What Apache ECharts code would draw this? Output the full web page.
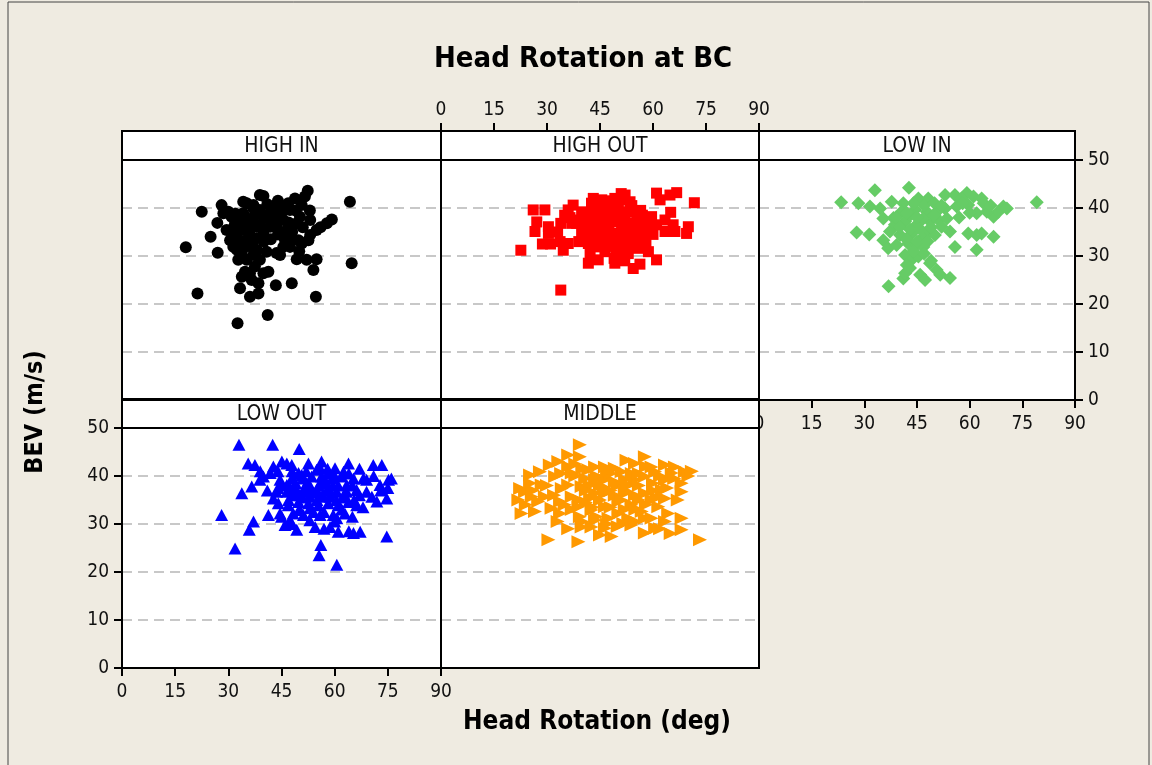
<!DOCTYPE html>
<html>
<head>
<meta charset="utf-8">
<script src="https://cdn.jsdelivr.net/npm/echarts@6/dist/echarts.min.js"></script>
<style>
html,body{margin:0;padding:0;background:#efebe1;}
#chart{width:1152px;height:765px;}
</style>
</head>
<body>
<div id="chart"></div>
<script>
// panel names, in Minitab's order
var panelNames = ['HIGH IN', 'HIGH OUT', 'LOW IN', 'LOW OUT', 'MIDDLE'];
var xTicks = [0, 15, 30, 45, 60, 75, 90];
var yTicks = [0, 10, 20, 30, 40, 50];

// [head rotation (deg), BEV (m/s)]
var highIn = [[18.0,31.8],[22.5,39.2],[21.3,22.2],[32.6,16.0],[41.1,17.7],[64.3,41.3],[64.8,28.5],[54.7,21.5],
  [52.4,43.6],[47.9,24.3],[43.4,23.9],[27.0,30.7],[25.0,34.0],[26.9,36.9],[28.1,40.6],[39.9,42.5],[35.2,41.0],
  [48.8,42.0],[59.2,37.6],[57.8,36.8],[54.0,27.1],[54.9,29.3],[52.1,29.2],[49.3,29.3],[44.6,30.2],[46.0,33.3],
  [49.8,33.3],[53.1,34.4],[54.9,35.4],[53.1,37.5],[50.2,38.2],[47.4,39.6],[44.6,40.3],[42.7,39.2],[38.9,39.6],
  [37.1,39.9],[34.2,38.9],[31.9,36.8],[30.9,38.2],[30.0,39.2],[32.4,34.7],[31.4,33.7],[34.2,35.4],[36.1,36.8],
  [35.2,33.3],[33.8,30.6],[35.2,29.2],[38.0,31.3],[40.8,30.9],[38.9,29.2],[37.5,27.8],[34.7,26.7],[33.8,25.7],
  [36.6,25.0],[38.5,24.3],[41.3,26.7],[33.3,23.3],[36.1,21.5],[38.5,22.2],[41.8,36.1],[39.9,34.7],[38.0,33.7],
  [43.6,36.1],[45.5,37.5],[41.8,37.5],[39.9,38.2],[38.0,36.1],[45.5,31.9],[43.6,30.6],[47.4,31.9],[32.4,31.3],
  [32.8,29.2],[29.5,35.4],[30.5,33.3],[28.6,38.9],[50.7,40.6],[46.9,41.0],[42.7,40.3],[37.1,40.6],[34.2,41.3],
  [38.9,42.7],[51.6,42.4],[49.3,36.8],[46.5,35.4],[35.2,37.5],[33.3,36.8],[36.6,32.3],[34.7,31.9],[31.4,31.9],
  [50.7,32.6],[47.4,33.7],[52.6,33.3],[37.1,30.2],[36.1,26.4],[39.9,26.4],
  [33.0,37.5],[35.0,36.0],[37.0,38.0],[39.0,36.5],[41.0,38.5],[43.0,38.0],[45.0,39.0],[47.0,37.0],[49.0,39.5],
  [51.0,36.0],[36.0,34.5],[34.0,33.0],[40.0,33.0],[42.0,33.5],[44.0,34.5],[48.0,35.0],[32.0,38.8],[37.0,31.5],
  [35.0,32.5],[41.0,40.8],[44.0,41.5],[31.0,35.5],[53.0,39.5],[56.0,36.0],[50.0,31.0]];

var highOut = [[22.6,31.2],[33.9,22.9],[26.1,39.6],[29.4,39.6],[27.1,37.1],[26.6,35.1],[28.7,32.5],[30.4,36.1],
  [30.4,34.7],[33.9,36.8],[33.7,33.0],[36.0,32.6],[34.6,31.2],[36.0,39.6],[37.4,40.6],[39.8,39.2],[38.4,36.8],
  [40.8,36.8],[41.2,34.7],[41.7,32.6],[42.2,30.6],[41.7,28.5],[44.5,29.2],[43.1,42.0],[45.5,41.7],[49.2,42.0],
  [52.1,42.7],[53.5,41.3],[42.6,39.6],[45.5,38.9],[47.4,39.9],[50.2,39.6],[53.0,39.2],[55.8,38.9],[43.6,36.8],
  [46.4,36.8],[49.2,37.1],[52.1,37.1],[54.9,36.8],[57.7,36.8],[59.6,38.2],[44.5,34.7],[47.4,35.1],[50.2,34.7],
  [53.0,34.7],[55.8,34.4],[58.2,35.1],[45.5,32.6],[48.3,32.3],[51.1,33.0],[54.0,33.0],[55.8,31.6],[56.8,32.6],
  [46.4,30.9],[50.2,30.6],[49.2,28.5],[54.4,27.4],[56.3,28.3],[58.7,30.9],[61.0,29.2],[61.0,43.1],[62.0,41.7],
  [64.8,42.7],[66.7,43.2],[71.7,41.1],[65.0,39.1],[63.4,37.5],[65.7,36.5],[63.4,35.1],[66.2,35.1],[70.0,36.1],
  [69.5,34.7],[48.3,38.2],[51.1,36.1],[39.8,34.7],[37.0,36.8],[47.4,34.0],[43.6,31.9],[52.1,31.2],[55.4,37.8],
  [42.6,41.0],[50.7,41.7],[52.5,35.4],[45.0,38.2],[41.7,37.8],[59.6,36.5],
  [40.0,38.0],[43.0,38.0],[46.0,37.8],[49.0,40.5],[52.0,38.5],[55.0,36.0],[57.0,38.5],[44.0,33.5],[47.0,32.0],
  [50.0,33.5],[53.0,32.5],[56.0,34.0],[58.0,33.0],[60.0,34.5],[46.0,40.5],[48.0,41.5],[51.0,43.0],[54.0,40.5],
  [39.0,33.0],[42.0,35.5],[45.0,36.0],[59.0,37.5],[61.0,36.5],[49.0,29.5],[52.0,29.0],[36.5,38.0],[33.0,35.0],
  [31.0,32.5],[44.0,40.0],[47.5,36.0],[50.5,38.0],[53.5,36.0],[56.5,39.5],[57.5,35.5],[43.0,34.0],[46.0,33.0],
  [49.5,31.5],[53.0,30.5],[39.0,37.5],[35.0,38.5]];

var lowIn = [[23.4,41.2],[79.1,41.2],[33.0,43.7],[42.7,44.2],[28.3,41.0],[31.6,40.3],[27.8,34.9],[31.4,34.5],
  [36.9,23.7],[34.5,39.9],[37.8,41.3],[35.4,33.3],[36.8,31.6],[41.1,41.0],[45.4,42.0],[48.2,42.0],[53.0,42.7],
  [55.8,42.7],[59.2,43.1],[63.4,42.0],[69.6,40.3],[66.8,38.2],[62.0,38.9],[59.6,40.6],[56.3,40.3],[53.0,39.9],
  [51.1,39.6],[47.8,39.2],[44.4,39.6],[40.6,39.2],[38.3,37.9],[41.6,37.2],[44.9,36.5],[48.7,37.2],[51.1,37.5],
  [53.5,37.8],[37.3,35.1],[40.2,34.4],[43.5,34.7],[46.8,34.0],[48.7,35.1],[50.1,34.4],[39.2,32.3],[42.5,32.6],
  [44.9,32.3],[54.4,35.1],[59.6,34.7],[62.0,34.4],[63.4,34.7],[66.8,34.0],[55.8,31.9],[62.0,31.3],[41.6,30.2],
  [43.5,29.2],[45.4,29.9],[42.1,28.1],[48.7,28.5],[50.6,27.1],[51.6,26.1],[54.4,25.4],[45.9,26.1],[47.3,25.0],
  [41.1,25.3],[41.6,26.4],[46.8,37.8],[35.4,37.8],[57.7,42.0],[61.1,42.4],[68.2,39.2],[70.6,39.9],[64.9,39.2],
  [52.0,36.1],[43.0,38.5],[38.7,36.5],[46.8,31.9],
  [39.0,38.0],[42.0,39.0],[45.0,38.0],[47.0,40.5],[50.0,41.0],[52.0,40.5],[44.0,41.0],[40.0,36.0],[43.0,35.5],
  [46.0,35.5],[49.0,36.0],[42.0,33.5],[45.0,33.0],[48.0,33.0],[47.0,30.5],[44.0,31.0],[43.0,27.5],[49.0,29.0],
  [57.0,38.0],[58.0,41.0],[60.0,39.0],[64.0,41.0],[66.0,40.5],[50.0,38.5]];

var lowOut = [[33.0,46.5],[42.5,46.5],[50.0,45.6],[28.1,31.9],[33.8,36.4],[36.6,37.8],[35.6,42.6],[37.5,42.3],
  [37.1,30.5],[35.9,28.8],[31.9,24.9],[60.6,21.5],[56.1,25.6],[55.6,23.5],[74.7,27.4],[65.3,28.1],[67.2,28.4],
  [70.9,42.3],[73.3,42.3],[75.2,39.2],[74.7,35.3],[71.9,34.7],[69.0,36.7],[49.3,28.8],[53.0,30.8],[61.0,28.4],
  [58.7,29.4],[41.3,31.9],[44.6,32.2],[47.4,30.8],[38.9,39.2],[41.8,40.6],[42.7,42.0],[45.1,43.0],[46.5,42.6],
  [47.9,42.3],[52.6,42.6],[56.3,43.0],[60.1,41.6],[63.9,42.6],[44.6,39.2],[47.9,39.5],[50.7,40.2],[53.5,39.9],
  [56.3,39.9],[59.2,39.5],[62.0,39.9],[65.3,39.5],[68.1,39.5],[43.6,36.7],[46.5,36.7],[49.3,37.1],[52.1,36.7],
  [54.9,37.1],[57.8,37.1],[60.6,36.7],[63.4,36.7],[66.2,37.1],[44.1,34.3],[46.9,33.9],[49.8,34.6],[52.6,34.3],
  [55.4,33.9],[58.2,34.3],[61.0,33.9],[63.9,34.6],[66.2,33.9],[48.3,32.2],[51.2,31.9],[55.9,31.9],[59.6,31.9],
  [62.9,32.2],[49.8,40.6],[54.9,41.3],[58.2,40.6],[62.5,40.9],[46.5,38.1],[52.1,38.5],[57.8,38.5],[63.4,38.1],
  [69.0,39.2],[42.7,35.3],[39.9,39.9],[54.5,29.4],[46.0,29.8],[60.6,31.2],[53.0,33.3],[50.2,32.9],[70.5,35.7],
  [72.8,38.1],[55.9,35.7],[58.7,35.7],[53.0,35.7],[50.2,36.0],
  [44.0,41.0],[48.0,41.0],[52.0,41.0],[56.0,41.5],[60.0,40.0],[64.0,40.5],[45.0,38.0],[49.0,38.5],[53.0,38.0],
  [57.0,39.0],[61.0,38.0],[65.0,38.0],[47.0,35.0],[51.0,35.5],[55.0,35.0],[59.0,36.5],[63.0,35.5],[67.0,36.0],
  [50.0,33.0],[54.0,32.5],[57.0,32.5],[62.0,33.0],[65.0,31.5],[44.0,37.5],[41.0,37.0],[39.0,41.0],[67.0,41.5],
  [71.0,40.0],[73.0,37.0],[76.0,39.5],[75.0,37.5],[68.0,33.5],[60.0,30.5],[57.0,29.0],[48.0,30.0],[45.0,31.5],
  [64.0,28.5],[47.5,37.5],[51.5,37.5],[55.5,38.0],[59.5,38.0],[62.5,36.0],[65.5,35.0],[53.5,36.5],[48.5,36.0],
  [56.5,36.0],[60.5,35.0],[51.0,39.5],[58.0,41.5]];

var middle = [[30.4,26.7],[38.9,26.3],[73.3,26.7],[39.3,46.5],[36.0,44.4],[33.2,43.0],[30.8,42.3],[28.0,40.9],
  [25.2,40.2],[22.4,37.4],[21.9,35.0],[22.8,32.2],[26.6,32.6],[25.7,35.7],[25.2,38.5],[28.5,38.1],[29.4,35.7],
  [32.3,39.9],[33.7,34.7],[33.7,32.2],[37.0,40.6],[39.3,44.0],[39.8,37.8],[39.3,31.5],[39.8,29.4],[42.2,35.4],
  [43.6,41.9],[46.4,41.9],[49.2,41.6],[52.5,43.3],[54.9,42.6],[57.7,44.0],[59.6,41.9],[63.4,42.3],[66.2,41.9],
  [69.0,40.9],[68.1,38.5],[68.1,36.7],[63.4,39.2],[62.5,37.1],[63.4,35.3],[61.5,33.6],[64.3,32.2],[68.1,31.2],
  [68.1,28.8],[60.6,29.1],[57.7,28.1],[53.9,29.8],[53.0,31.2],[57.7,31.2],[56.8,32.6],[46.4,29.1],[45.0,27.7],
  [43.6,30.8],[47.4,31.2],[50.2,32.2],[46.4,33.6],[42.6,32.9],[38.9,33.6],[37.0,35.7],[36.0,38.1],[34.2,37.4],
  [43.6,39.2],[46.4,39.2],[49.2,38.8],[52.1,39.2],[54.9,39.2],[57.7,39.9],[43.6,36.4],[46.4,36.4],[49.2,36.0],
  [52.1,36.4],[54.9,36.0],[57.7,36.4],[59.6,35.0],[50.2,34.7],[53.9,34.0],[41.7,41.3],[31.3,33.3],[27.5,34.7],
  [23.8,36.7],[40.8,39.5],[51.1,40.9],[60.6,40.9],[65.3,40.6],[59.6,31.2],[63.4,30.5],[51.6,30.1],[42.6,29.4],
  [48.3,27.4],
  [30.0,38.0],[32.0,36.0],[34.0,40.5],[36.0,42.0],[38.0,40.0],[40.0,41.5],[42.0,38.0],[44.0,40.0],[46.0,37.5],
  [48.0,40.5],[50.0,38.0],[52.0,37.0],[54.0,40.5],[56.0,38.0],[58.0,42.0],[60.0,38.5],[62.0,40.0],[64.0,37.5],
  [66.0,39.5],[35.0,34.0],[37.0,33.0],[41.0,34.5],[45.0,35.0],[48.0,33.5],[51.0,35.0],[55.0,33.0],[58.0,34.0],
  [61.0,35.5],[40.0,30.5],[44.0,31.5],[47.0,30.0],[50.0,29.5],[55.0,30.5],[62.0,29.0],[65.0,28.0],[70.0,40.0],
  [71.0,41.0],[67.0,35.0],[36.0,29.0],[33.0,30.5],[26.0,37.0],[24.0,34.0],[41.0,37.0],[45.0,38.0],[48.0,37.0],
  [53.0,38.0],[56.0,40.5],[60.0,37.0],[39.0,35.0],[43.0,33.5],[52.0,33.0],[56.0,35.0],[47.0,41.0],[38.0,42.5]];

var panelData = [highIn, highOut, lowIn, lowOut, middle];
var panelColors = ['#000000', '#ff0000', '#66cc66', '#0000ff', '#ff9900'];
var panelSymbols = ['circle', 'rect', 'diamond', 'triangle', 'triangle'];
var panelSizes = [12, 11, 14, [13, 12], [13, 14]];
var panelRotate = [0, 0, 0, 0, -90];

var FONT = "'DejaVu Sans Condensed','DejaVu Sans',sans-serif";
var stripH = 29;
var boxes = [
  {left: 122, top: 160, width: 319, height: 240},
  {left: 441, top: 160, width: 318, height: 240},
  {left: 759, top: 160, width: 316, height: 240},
  {left: 122, top: 428, width: 319, height: 240},
  {left: 441, top: 428, width: 318, height: 240}
];
// which panel shows which axis labels (Minitab alternates them)
var xPos = [null, 'top', 'bottom', 'bottom', null];
var yPos = [null, null, 'right', 'left', null];

var myChart = echarts.init(document.getElementById('chart'));

var grids = [], xAxes = [], yAxes = [], series = [], graphics = [];
var tickStyle = {show: true, length: 8, lineStyle: {color: '#000', width: 2}};
var labelStyle = {color: '#111', fontSize: 19, fontFamily: FONT};

for (var i = 0; i < 5; i++) {
  var b = boxes[i];
  grids.push({left: b.left, top: b.top, width: b.width, height: b.height,
    show: true, backgroundColor: '#fff', borderWidth: 0});

  xAxes.push({
    type: 'value', gridIndex: i, min: 0, max: 90, interval: 15,
    position: xPos[i] || 'bottom',
    offset: xPos[i] == 'top' ? stripH : 0,
    axisLine: {show: false, onZero: false},
    axisTick: xPos[i] ? tickStyle : {show: false},
    axisLabel: xPos[i] ? Object.assign({margin: xPos[i] == 'top' ? 11 : 15}, labelStyle) : {show: false},
    splitLine: {show: false}
  });

  yAxes.push({
    type: 'value', gridIndex: i, min: 0, max: 50, interval: 10,
    position: yPos[i] || 'left',
    axisLine: {show: false, onZero: false},
    axisTick: yPos[i] ? tickStyle : {show: false},
    axisLabel: yPos[i] ? Object.assign({margin: 13}, labelStyle) : {show: false},
    splitLine: {show: true, lineStyle: {color: '#c8c8c8', width: 2, type: [10, 6]}}
  });

  series.push({
    type: 'scatter', name: panelNames[i], xAxisIndex: i, yAxisIndex: i,
    data: panelData[i],
    symbol: panelSymbols[i], symbolSize: panelSizes[i], symbolRotate: panelRotate[i],
    itemStyle: {color: panelColors[i], opacity: 1},
    emphasis: {disabled: true}
  });

  // strip with the panel name
  graphics.push({
    type: 'rect', z: 50,
    shape: {x: b.left, y: b.top - stripH, width: b.width, height: stripH},
    style: {fill: '#fff', stroke: '#000', lineWidth: 2}
  });
  graphics.push({
    type: 'text', z: 51,
    x: b.left + b.width / 2, y: b.top - stripH / 2 + 1,
    style: {text: panelNames[i], fill: '#111', font: '21px ' + FONT, textAlign: 'center', textVerticalAlign: 'middle'}
  });
  // panel frame
  graphics.push({
    type: 'rect', z: 60,
    shape: {x: b.left, y: b.top - stripH, width: b.width, height: b.height + stripH},
    style: {fill: null, stroke: '#000', lineWidth: 2}
  });
}

// axis titles and outer frame
graphics.push({
  type: 'text', z: 70, x: 597, y: 722,
  style: {text: 'Head Rotation (deg)', fill: '#000', font: 'bold 26px ' + FONT, textAlign: 'center', textVerticalAlign: 'middle'}
});
graphics.push({
  type: 'text', z: 70, x: 35, y: 412, rotation: Math.PI / 2,
  style: {text: 'BEV (m/s)', fill: '#000', font: 'bold 25px ' + FONT, textAlign: 'center', textVerticalAlign: 'middle'}
});
graphics.push({
  type: 'rect', z: 1,
  shape: {x: 8, y: 2, width: 1141, height: 800},
  style: {fill: null, stroke: '#444', lineWidth: 1}
});

var option = {
  backgroundColor: '#efebe1',
  animation: false,
  title: {
    text: 'Head Rotation at BC', left: 429, top: 40,
    textStyle: {fontSize: 29, fontWeight: 'bold', color: '#000', fontFamily: FONT}
  },
  grid: grids,
  xAxis: xAxes,
  yAxis: yAxes,
  series: series,
  graphic: graphics
};
myChart.setOption(option);
</script>
</body>
</html>
